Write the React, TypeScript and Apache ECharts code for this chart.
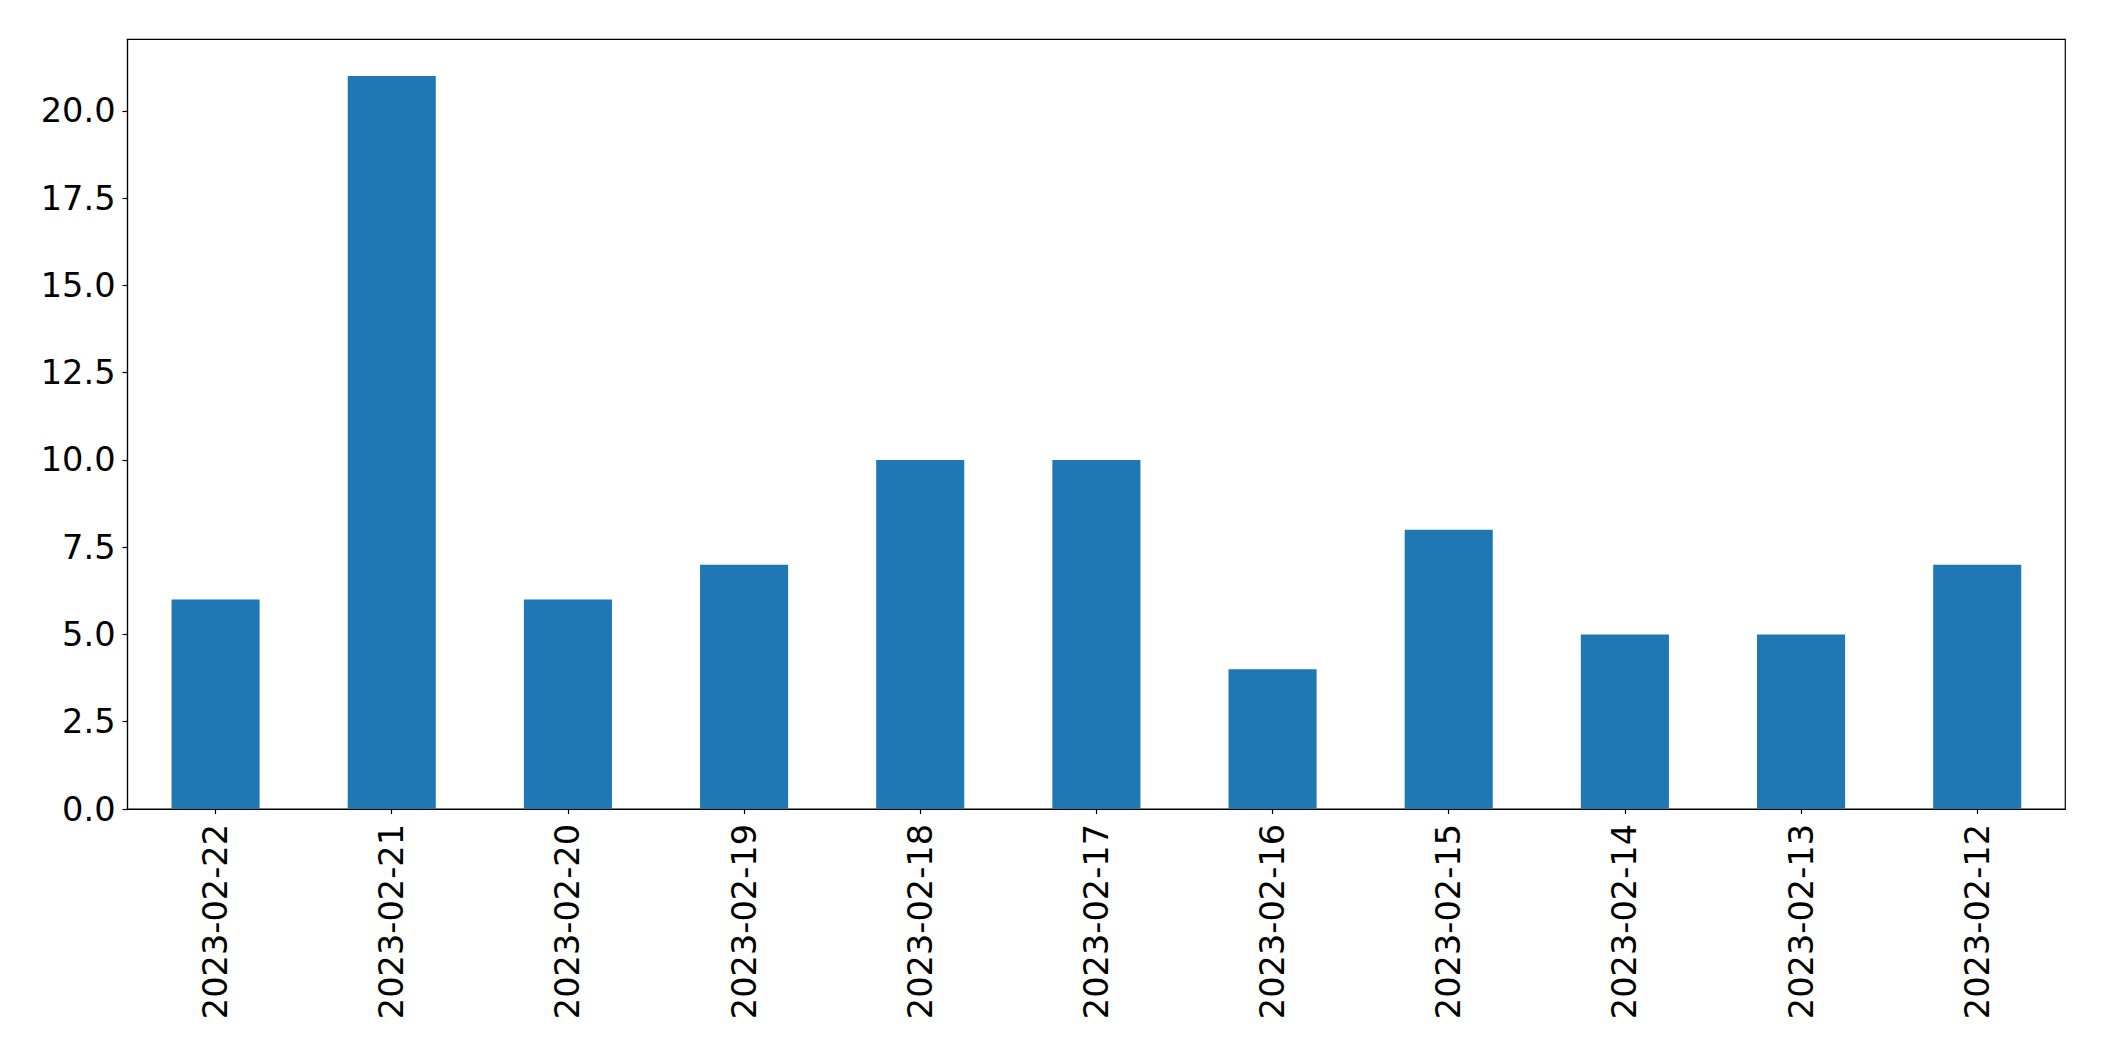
import React, { useEffect, useRef } from "react";
import * as echarts from "echarts";

const categories = [
  "2023-02-22", "2023-02-21", "2023-02-20", "2023-02-19", "2023-02-18", "2023-02-17",
  "2023-02-16", "2023-02-15", "2023-02-14", "2023-02-13", "2023-02-12",
];
const values = [6, 21, 6, 7, 10, 10, 4, 8, 5, 5, 7];
const yTicks = [0, 2.5, 5, 7.5, 10, 12.5, 15, 17.5, 20];

export default function App() {
  const ref = useRef<HTMLDivElement>(null);
  useEffect(() => {
    if (!ref.current) return;
    const chart = echarts.init(ref.current, undefined, { renderer: "svg" });
    const font = "DejaVu Sans";
    chart.setOption({
      animation: false,
      backgroundColor: "#fff",
      grid: {
        left: 127.5,
        right: 38.7,
        top: 39.3,
        bottom: 252,
        show: true,
        borderColor: "#000",
        borderWidth: 1.2,
        containLabel: false,
      },
      xAxis: {
        type: "category",
        data: categories,
        boundaryGap: true,
        axisLine: { show: true, lineStyle: { color: "#000", width: 1.2 } },
        axisTick: { show: true, alignWithLabel: true, length: 5, lineStyle: { color: "#000", width: 1.2 } },
        axisLabel: {
          interval: 0,
          rotate: 90,
          margin: 15,
          color: "#000",
          fontFamily: font,
          fontSize: 33.6,
        },
        splitLine: { show: false },
      },
      yAxis: {
        type: "value",
        min: 0,
        max: 22.05,
        interval: 2.5,
        axisLine: { show: true, lineStyle: { color: "#000", width: 1.2 } },
        axisTick: { show: true, length: 5, customValues: yTicks, lineStyle: { color: "#000", width: 1.2 } },
        axisLabel: {
          customValues: yTicks,
          margin: 12,
          color: "#000",
          fontFamily: font,
          fontSize: 33.6,
          formatter: (v: number) => v.toFixed(1),
        },
        splitLine: { show: false },
      },
      series: [
        {
          type: "bar",
          data: values,
          barWidth: "50%",
          itemStyle: { color: "#1f77b4" },
        },
      ],
    });
    return () => chart.dispose();
  }, []);
  return <div ref={ref} style={{ width: 2104, height: 1061, position: "absolute", left: 0, top: 0 }} />;
}
